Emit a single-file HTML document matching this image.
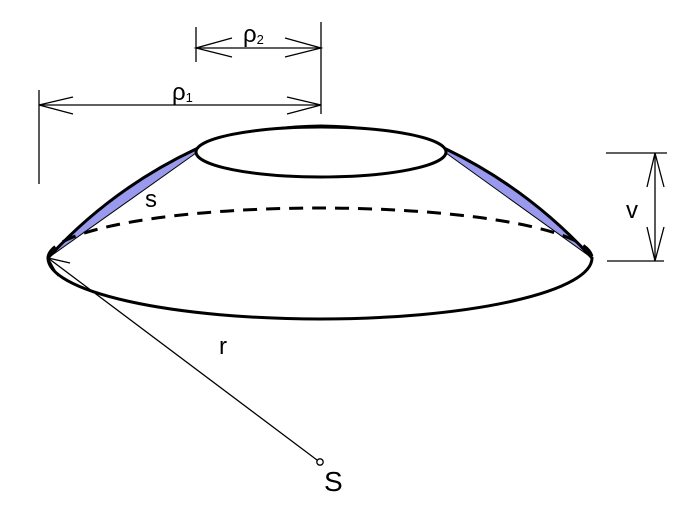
<!DOCTYPE html>
<html><head><style>body{margin:0;background:#fff}svg{display:block}</style></head>
<body>
<svg width="692" height="512" viewBox="0 0 692 512" xmlns="http://www.w3.org/2000/svg" font-family="Liberation Sans, sans-serif">
<rect width="692" height="512" fill="#fff"/>
<path d="M48,258 Q111,189 196,149 L196,153 Z" fill="#9999ee" stroke="#000" stroke-width="1" stroke-linejoin="round"/>
<path d="M592,258 Q529,189 446,149 L446,153 Z" fill="#9999ee" stroke="#000" stroke-width="1" stroke-linejoin="round"/>
<path d="M48,258 Q111,189 196,149 Q250,127 321,126 Q392,127 446,149 Q529,189 592,258" fill="none" stroke="#000" stroke-width="3" stroke-linejoin="round" stroke-linecap="round"/>
<ellipse cx="321" cy="152" rx="125" ry="25" fill="#fff" stroke="#000" stroke-width="3"/>
<path d="M48,258 A272,61 0 0 0 592,258" fill="none" stroke="#000" stroke-width="3" stroke-linecap="round"/>
<path d="M48,258 A272,50 0 0 1 592,258" fill="none" stroke="#000" stroke-width="3" stroke-dasharray="14,9"/>
<g stroke="#000" stroke-width="1.3" fill="none">
<line x1="196" y1="27" x2="196" y2="62"/>
<line x1="321" y1="22" x2="321" y2="114"/>
<line x1="196" y1="48" x2="321" y2="48"/>
<polyline points="232,38 196,48 232,57"/>
<polyline points="285,38 321,48 285,57"/>
<line x1="39" y1="90" x2="39" y2="184"/>
<line x1="39" y1="105" x2="321" y2="105"/>
<polyline points="73,97 39,105 73,114"/>
<polyline points="287,97 321,105 287,114"/>
<line x1="606" y1="153" x2="667" y2="153"/>
<line x1="607" y1="261" x2="664" y2="261"/>
<line x1="655" y1="153" x2="655" y2="261"/>
<polyline points="647,187 655,153 664,187"/>
<polyline points="647,227 655,261 664,227"/>
<line x1="48" y1="258" x2="317" y2="460"/>
<polyline points="70,263 48,258 58,276"/>
</g>
<circle cx="320" cy="462" r="3.2" fill="#fff" stroke="#000" stroke-width="1.3"/>
<g fill="#000">
<text x="243" y="42" font-size="24">ρ<tspan font-size="13" dy="2">2</tspan></text>
<text x="172" y="100" font-size="24">ρ<tspan font-size="13" dy="2">1</tspan></text>
<text x="145" y="207" font-size="24">s</text>
<text x="626" y="218" font-size="24">v</text>
<text x="219" y="354" font-size="24">r</text>
<text x="324" y="491" font-size="28">S</text>
</g>
</svg>
</body></html>
